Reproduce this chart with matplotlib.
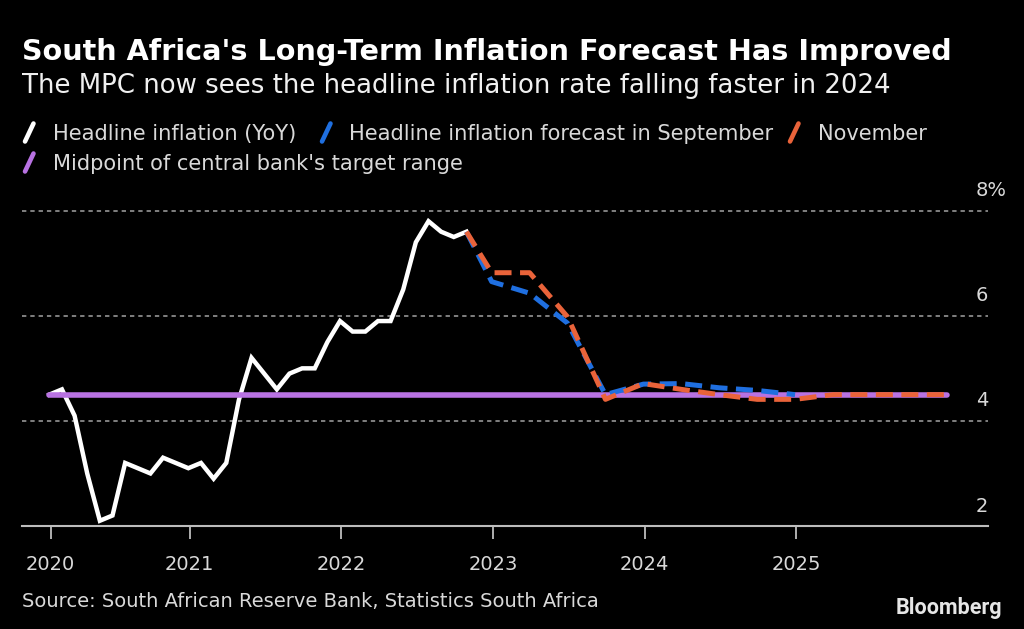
import matplotlib
matplotlib.use("Agg")
import matplotlib.pyplot as plt
from matplotlib.lines import Line2D
from matplotlib.transforms import blended_transform_factory, ScaledTranslation

# ---------------- data ----------------
# month index: 0 = Jan 2020
headline_x = list(range(0, 34))
headline = [4.5, 4.6, 4.1, 3.0, 2.1, 2.2, 3.2, 3.1, 3.0, 3.3, 3.2, 3.1,
            3.2, 2.9, 3.2, 4.4, 5.2, 4.9, 4.6, 4.9, 5.0, 5.0, 5.5, 5.9,
            5.7, 5.7, 5.9, 5.9, 6.5, 7.4, 7.8, 7.6, 7.5, 7.6]
sep_x = [33, 35, 38, 41, 44, 47, 50, 53, 56, 59]
sep_fc = [7.6, 6.65, 6.43, 5.86, 4.5, 4.7, 4.71, 4.63, 4.58, 4.5]
nov_x = [33, 35, 38, 41, 44, 47, 50, 53, 56, 59, 62, 65, 68, 71]
nov_fc = [7.6, 6.82, 6.82, 5.98, 4.41, 4.71, 4.6, 4.5, 4.41, 4.41, 4.5, 4.5, 4.5, 4.5]
mid_x = [0, 71]
midpoint = [4.5, 4.5]
year_ticks = [0.1, 11.1, 23.1, 35.1, 47.1, 59.1]
year_labels = ["2020", "2021", "2022", "2023", "2024", "2025"]
y_ticks = [4, 6, 8]
y_labels = ["4", "6", "8%"]

title = "South Africa's Long-Term Inflation Forecast Has Improved"
subtitle = "The MPC now sees the headline inflation rate falling faster in 2024"
legend_items = ["Headline inflation (YoY)", "Headline inflation forecast in September",
                "November", "Midpoint of central bank's target range"]
source = "Source: South African Reserve Bank, Statistics South Africa"

# ---------------- style ----------------
W, H = 1024, 629
WHITE = "#ffffff"
BLUE = "#1f6fe0"
ORANGE = "#e9633a"
PURPLE = "#b872e2"
TXT = "#d9d9d9"
GRID = "#8a8a8a"

plt.rcParams['font.family'] = ['DejaVu Sans']

fig = plt.figure(figsize=(W / 100, H / 100), dpi=100, facecolor="black")

def fx(px):
    return px / W

def fy(py):
    return 1 - py / H

ax_left, ax_right = 22.3, 988
ax_bottom_px = 526
ax_top_px = 190
ax = fig.add_axes([fx(ax_left), fy(ax_bottom_px), fx(ax_right - ax_left),
                   (ax_bottom_px - ax_top_px) / H])
ax.set_facecolor("black")

ppm = 12.64  # pixels per month
x0 = (ax_left - 49.3) / ppm
x1 = (ax_right - 49.3) / ppm
ax.set_xlim(x0, x1)
ppu = 52.55
ax.set_ylim(2, 2 + (ax_bottom_px - ax_top_px) / ppu)

for s in ["top", "right", "left"]:
    ax.spines[s].set_visible(False)
ax.spines["bottom"].set_color("#bdbdbd")
ax.spines["bottom"].set_linewidth(1.5)

# grid lines
for v in y_ticks:
    ax.axhline(v, color=GRID, lw=1.3, ls=(0, (2.4, 2.2)), zorder=1)

# lines
ax.plot(headline_x, headline, color=WHITE, lw=3.2, solid_joinstyle="miter", zorder=3)
ax.plot(mid_x, midpoint, color=PURPLE, lw=4, solid_capstyle="round", zorder=4)
ax.plot(sep_x, sep_fc, color=BLUE, lw=3.6, dashes=(3.4, 1.7), zorder=5)
ax.plot(nov_x, nov_fc, color=ORANGE, lw=3.6, dashes=(3.4, 1.7), zorder=6)

# x ticks
ax.set_xticks(year_ticks)
ax.set_xticklabels(year_labels)
ax.tick_params(axis="x", colors="#bdbdbd", length=9, width=1.3, direction="out",
               labelsize=14, labelcolor=TXT, pad=12)
ax.set_yticks([])

# y labels (right side, above gridlines)
trans = blended_transform_factory(fig.transFigure, ax.transData)
off = ScaledTranslation(0, 14.5 / 100, fig.dpi_scale_trans)
for v, lab in zip(y_ticks + [2], y_labels + ["2"]):
    ax.text(fx(976), v, lab, transform=trans + off, color=TXT, fontsize=14,
            ha="left", va="baseline", clip_on=False)

# title / subtitle
fig.text(fx(22), fy(60), title, color=WHITE, fontsize=20.6, fontweight="bold",
         ha="left", va="baseline")
fig.text(fx(22), fy(93), subtitle, color="#f0f0f0", fontsize=18.7,
         ha="left", va="baseline")

# legend
def legend_entry(icon_x, text_x, base_y, color, label):
    fig.add_artist(Line2D([fx(icon_x), fx(icon_x + 8.5)], [fy(base_y + 1.5), fy(base_y - 16.5)],
                          transform=fig.transFigure, color=color, lw=3.3,
                          solid_capstyle="round"))
    fig.text(fx(text_x), fy(base_y), label, color=TXT, fontsize=15.1,
             ha="left", va="baseline")

legend_entry(25, 52.7, 140, WHITE, legend_items[0])
legend_entry(322, 349.3, 140, BLUE, legend_items[1])
legend_entry(790, 818.3, 140, ORANGE, legend_items[2])
legend_entry(25, 52.7, 170, PURPLE, legend_items[3])

# source and logo
fig.text(fx(22), fy(607), source, color=TXT, fontsize=14.05, ha="left", va="baseline")
fig.text(fx(1002), fy(614), "Bloomberg", color="#e6e6e6", fontsize=15.5,
         fontweight="bold", family=["Roboto", "DejaVu Sans"], ha="right", va="baseline")

fig.savefig("out.png", dpi=100, facecolor="black")
